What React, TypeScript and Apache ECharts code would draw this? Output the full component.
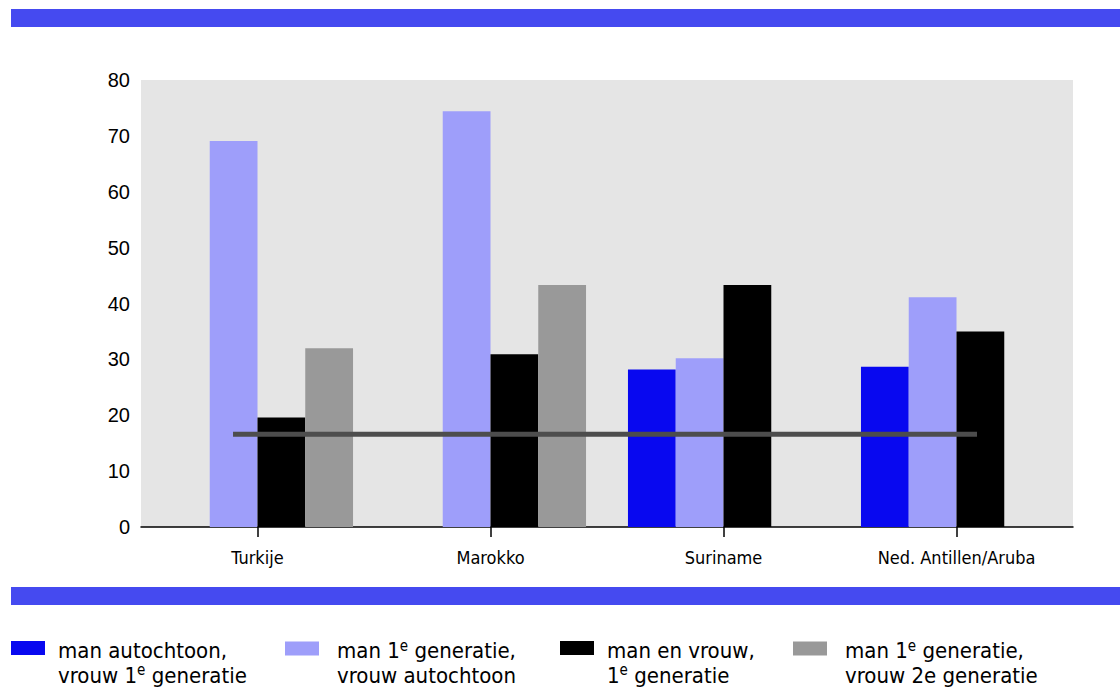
import React, { useEffect, useRef } from "react";
import * as echarts from "echarts";

const categories = ["Turkije", "Marokko", "Suriname", "Ned. Antillen/Aruba"];
const seriesNames = [
  "man autochtoon, vrouw 1e generatie",
  "man 1e generatie, vrouw autochtoon",
  "man en vrouw, 1e generatie",
  "man 1e generatie, vrouw 2e generatie",
];
const valsAutMan = [null, null, 28.2, 28.7];
const valsGen1Man = [69.1, 74.4, 30.2, 41.1];
const valsBoth1 = [19.6, 30.9, 43.3, 35.0];
const valsGen1Gen2 = [32.0, 43.3, null, null];
const refLevel = 16.6;
const refLineX = [0.395, 3.588];
const yMin = 0;
const yMax = 80;
const yStep = 10;

const colors = ["#0808F0", "#9E9EFA", "#000000", "#999999"];
const legendRich = [
  "{t|man autochtoon,}\n{t|vrouw 1}{s|e}{t| generatie}",
  "{t|man 1}{s|e}{t| generatie,}\n{t|vrouw autochtoon}",
  "{t|man en vrouw,}\n{t|1}{s|e}{t| generatie}",
  "{t|man 1}{s|e}{t| generatie,}\n{t|vrouw 2e generatie}",
];

const NARROW = "DejaVu Sans Condensed";

export default function App() {
  const ref = useRef<HTMLDivElement>(null);
  useEffect(() => {
    if (!ref.current) return;
    const chart = echarts.init(ref.current, null, { renderer: "svg" });
    const values = [valsAutMan, valsGen1Man, valsBoth1, valsGen1Gen2];
    const legendLefts = [11, 285, 560, 793];
    const legendTops = [639, 638, 639, 638];
    const legendPadLeft = [8, 13, 8, 13];
    const option: any = {
      animation: false,
      backgroundColor: "#ffffff",
      grid: {
        left: 141,
        right: 47,
        top: 80,
        bottom: 163,
        show: true,
        backgroundColor: "#E5E5E5",
        borderWidth: 0,
        containLabel: false,
      },
      xAxis: [
        {
          type: "category",
          data: categories,
          boundaryGap: true,
          axisLine: { show: true, lineStyle: { color: "#000", width: 1.5 } },
          axisTick: { show: true, alignWithLabel: true, length: 10, lineStyle: { color: "#000", width: 1.5 } },
          axisLabel: { interval: 0, fontFamily: NARROW, fontSize: 18, color: "#000", margin: 21 },
          splitLine: { show: false },
        },
        {
          type: "value",
          min: 0,
          max: categories.length,
          show: false,
          splitLine: { show: false },
        },
      ],
      yAxis: {
        type: "value",
        min: yMin,
        max: yMax,
        interval: yStep,
        axisLine: { show: false },
        axisTick: { show: false },
        splitLine: { show: false },
        axisLabel: { fontFamily: "Liberation Sans", fontSize: 20, color: "#000", margin: 11 },
      },
      legend: seriesNames.map((n, i) => ({
        data: [n],
        left: legendLefts[i],
        top: legendTops[i],
        padding: 0,
        itemWidth: 34,
        itemHeight: 14,
        selectedMode: false,
        icon: "rect",
        formatter: () => legendRich[i],
        textStyle: {
          padding: [29, 0, 0, legendPadLeft[i]],
          rich: {
            t: { fontFamily: NARROW, fontSize: 22, lineHeight: 25, color: "#000" },
            s: { fontFamily: NARROW, fontSize: 15, lineHeight: 25, color: "#000", verticalAlign: "top" },
          },
        },
      })),
      graphic: [
        { type: "rect", left: 11, top: 9, shape: { width: 1109, height: 18 }, style: { fill: "#454AF0" } },
        { type: "rect", left: 11, top: 587, shape: { width: 1109, height: 18 }, style: { fill: "#454AF0" } },
      ],
      series: [
        ...seriesNames.map((n, i) => ({
          name: n,
          type: "bar",
          data: values[i],
          barGap: "0%",
          barCategoryGap: "18%",
          itemStyle: { color: colors[i] },
        })),
        {
          name: "gemiddelde",
          type: "line",
          xAxisIndex: 1,
          data: refLineX.map((x) => [x, refLevel]),
          symbol: "none",
          lineStyle: { color: "#4D4D4D", width: 5 },
          z: 5,
        },
      ],
    };
    chart.setOption(option);
    return () => chart.dispose();
  }, []);
  return (
    <div
      ref={ref}
      style={{ position: "absolute", left: 0, top: 0, width: 1120, height: 690 }}
    />
  );
}
